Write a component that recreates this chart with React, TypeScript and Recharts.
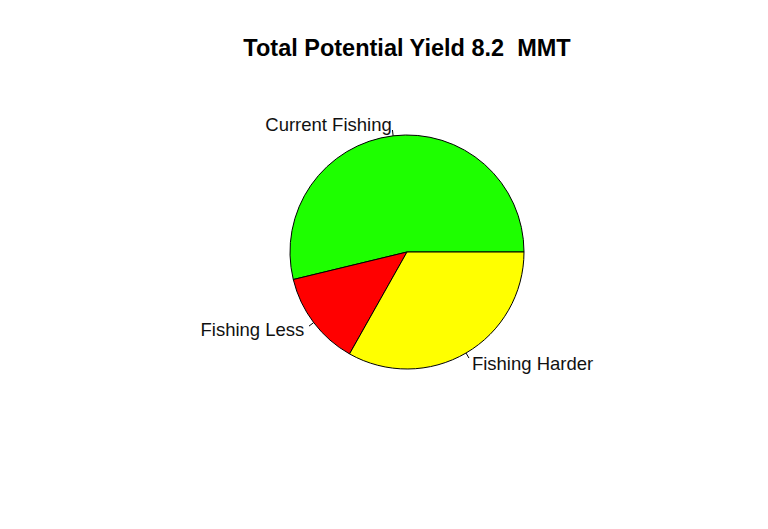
import { Cell, Pie, PieChart } from 'recharts';

const categories = ['Current Fishing', 'Fishing Less', 'Fishing Harder'];
const yields = [4.41, 1.07, 2.72];
const colors = ['#1eff00', '#ff0000', '#ffff00'];

const data = categories.map((name, i) => ({ name, value: yields[i] }));

const RAD = Math.PI / 180;

function renderLabel(props: any) {
  const { cx, cy, midAngle, outerRadius, name } = props;
  const c = Math.cos(-midAngle * RAD);
  const s = Math.sin(-midAngle * RAD);
  const x1 = cx + outerRadius * c;
  const y1 = cy + outerRadius * s;
  const x2 = cx + outerRadius * 1.05 * c;
  const y2 = cy + outerRadius * 1.05 * s;
  const tx = cx + outerRadius * 1.1 * c;
  const ty = cy + outerRadius * 1.1 * s;
  return (
    <g>
      <line x1={x1} y1={y1} x2={x2} y2={y2} stroke="#000" strokeWidth={1} />
      <text
        x={tx}
        y={ty}
        textAnchor={c >= 0 ? 'start' : 'end'}
        dominantBaseline="central"
        fontSize={18.5}
        fill="#111"
        fontFamily="'Liberation Sans', Arial, sans-serif"
      >
        {name}
      </text>
    </g>
  );
}

function App() {
  return (
    <div style={{ position: 'absolute', left: 0, top: 0, width: 768, height: 529, background: '#fff' }}>
      <div
        style={{
          position: 'absolute',
          left: 0,
          top: 37,
          width: 814,
          textAlign: 'center',
          fontFamily: "'Liberation Sans', Arial, sans-serif",
          fontWeight: 'bold',
          fontSize: 23.5,
          lineHeight: '23.5px',
          whiteSpace: 'pre',
          color: '#000',
        }}
      >
        {'Total Potential Yield 8.2  MMT'}
      </div>
      <PieChart width={768} height={529} margin={{ top: 0, right: 0, bottom: 0, left: 0 }}>
        <Pie
          data={data}
          dataKey="value"
          nameKey="name"
          cx={407}
          cy={252}
          outerRadius={117}
          startAngle={0}
          endAngle={360}
          stroke="#000"
          strokeWidth={1}
          label={renderLabel}
          labelLine={false}
          isAnimationActive={false}
        >
          {data.map((d, i) => (
            <Cell key={d.name} fill={colors[i]} />
          ))}
        </Pie>
      </PieChart>
    </div>
  );
}

export default App;
